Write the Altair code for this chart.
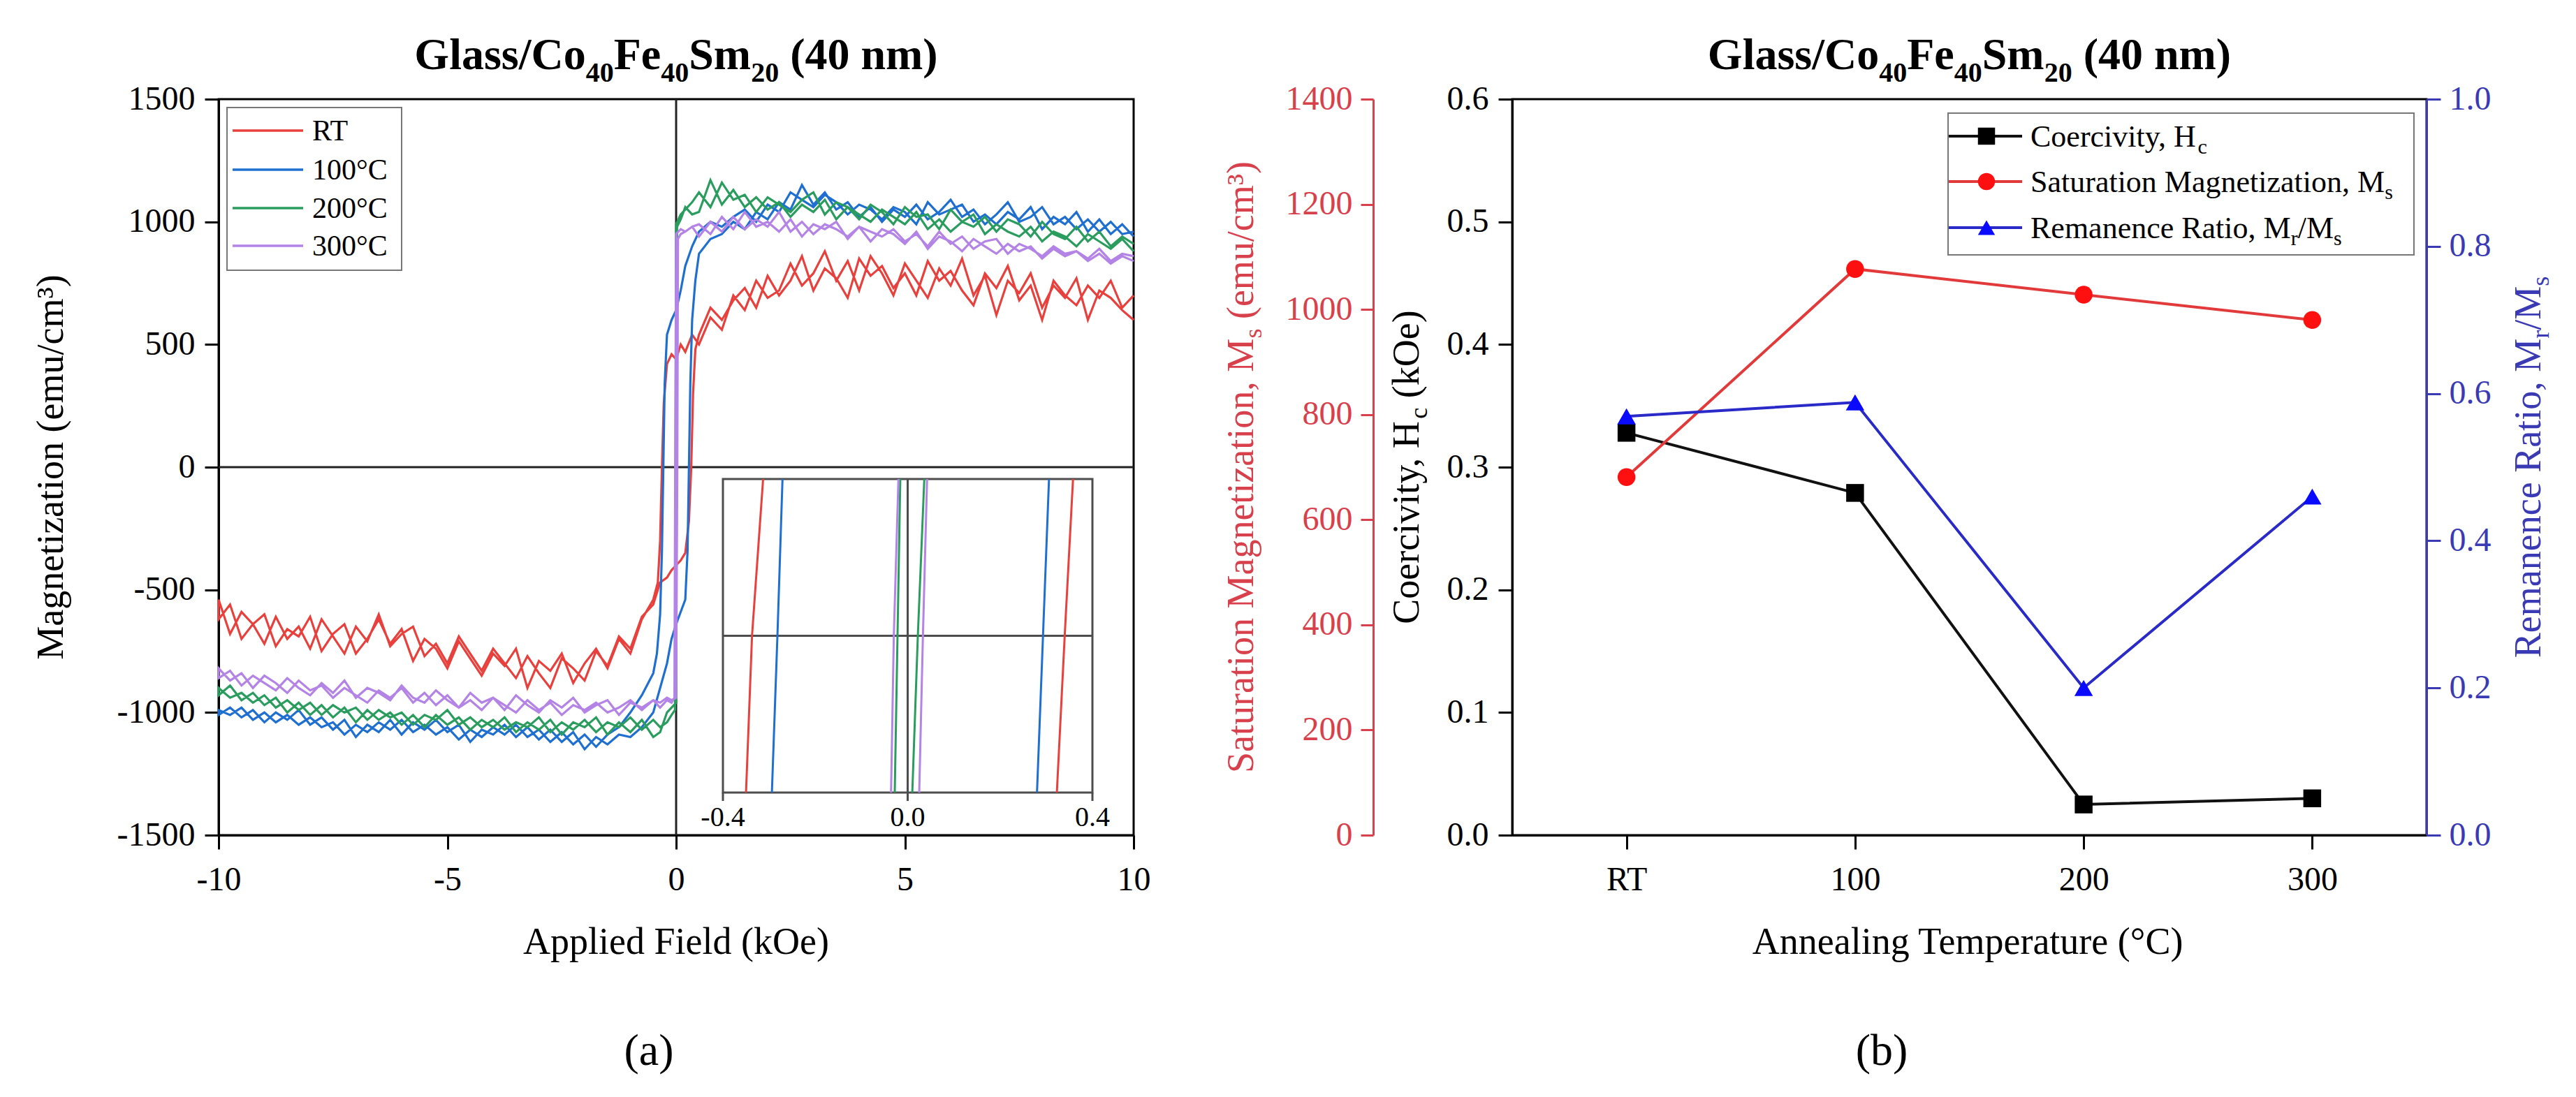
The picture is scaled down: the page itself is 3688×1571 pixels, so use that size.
import altair as alt
import pandas as pd

FONT = "Liberation Serif"

# =====================================================================
# Panel (a): hysteresis loops
# =====================================================================
SERIES = ["RT", "100°C", "200°C", "300°C"]
LOOP_COLORS = ["#e8403c", "#1f6fd0", "#2a9d5e", "#b383e6"]

# field grid (kOe) of the saturated parts
H_POS = [round(0.5 + 0.25 * i, 2) for i in range(39)]    # 0.5 ... 10
H_NEG = [round(-10 + 0.25 * i, 2) for i in range(39)]    # -10 ... -0.5

# ---- RT ----
RT_DESC_POS = [500, 610, 560, 700, 640, 760, 690, 720, 830, 740, 790, 880, 760, 840, 720, 860, 790, 700, 830, 760,
               690, 810, 740, 850, 700, 780, 620, 760, 710, 790, 650, 740, 690, 770, 600, 720, 690, 640, 600]
RT_ASC_POS = [540, 650, 600, 680, 730, 650, 780, 700, 760, 860, 720, 810, 770, 690, 850, 780, 820, 730, 790, 700,
              840, 760, 800, 720, 660, 790, 730, 820, 680, 740, 600, 760, 700, 660, 740, 690, 760, 650, 700]
RT_DESC_NEG = [-620, -560, -700, -640, -600, -730, -660, -690, -610, -750, -680, -640, -760, -700, -620, -720, -660,
               -790, -700, -740, -820, -710, -780, -850, -760, -810, -740, -900, -790, -830, -760, -880, -800, -740,
               -820, -700, -760, -620, -540]
RT_ASC_NEG = [-540, -680, -590, -640, -720, -610, -700, -650, -740, -620, -690, -760, -650, -710, -600, -730, -680,
              -650, -770, -720, -800, -690, -760, -830, -740, -800, -860, -770, -840, -900, -780, -820, -870, -750,
              -810, -690, -740, -610, -560]
RT_DSW_H = [0.35, 0.2, 0.1, 0.0, -0.1, -0.2, -0.27, -0.31, -0.35, -0.4]
RT_DSW_M = [540, 470, 500, 440, 460, 420, 260, 0, -300, -470]
RT_ASW_H = [-0.35, -0.2, -0.1, 0.0, 0.1, 0.2, 0.28, 0.33, 0.37, 0.42]
RT_ASW_M = [-470, -450, -420, -400, -380, -350, -220, 0, 300, 480]

# ---- 100 °C ----
B_DESC_POS = [960, 1000, 980, 1020, 1050, 1000, 1070, 1040, 1120, 1090, 1060, 1110, 1080, 1030, 1070, 1050, 1010,
              1060, 1040, 990, 1080, 1030, 1050, 1070, 1000, 1030, 990, 1040, 1010, 1060, 970, 1020, 990, 1040, 960,
              1010, 950, 990, 940]
B_ASC_POS = [870, 930, 950, 1000, 970, 1040, 1010, 1080, 1050, 1150, 1070, 1120, 1050, 1080, 1020, 1060, 1000, 1050,
             1020, 1070, 1010, 1040, 1090, 1020, 1050, 990, 1030, 1080, 1000, 1020, 1060, 990, 1020, 970, 1010, 960,
             1000, 950, 960]
B_DESC_NEG = [-990, -1010, -980, -1030, -1000, -1040, -1010, -1050, -1020, -1060, -1040, -1090, -1050, -1080, -1040,
              -1070, -1030, -1080, -1050, -1090, -1060, -1110, -1070, -1100, -1060, -1090, -1050, -1100, -1070, -1120,
              -1080, -1130, -1090, -1140, -1090, -1060, -1000, -930, -840]
B_ASC_NEG = [-1010, -980, -1020, -990, -1040, -1000, -1030, -990, -1050, -1020, -1070, -1030, -1100, -1050, -1080,
             -1030, -1090, -1040, -1070, -1030, -1080, -1050, -1120, -1070, -1090, -1050, -1100, -1060, -1110, -1070,
             -1120, -1080, -1150, -1100, -1130, -1090, -1100, -1060, -1000]
B_DSW_H = [0.35, 0.2, 0.1, 0.0, -0.1, -0.2, -0.25, -0.28, -0.31, -0.35, -0.42]
B_DSW_M = [900, 820, 720, 640, 600, 540, 340, 0, -340, -600, -760]
B_ASW_H = [-0.35, -0.2, -0.1, 0.0, 0.1, 0.2, 0.25, 0.28, 0.31, 0.35, 0.42]
B_ASW_M = [-900, -800, -700, -640, -590, -540, -340, 0, 340, 600, 760]

# ---- 200 °C ----
G_DESC_POS = [1120, 1060, 1160, 1090, 1110, 1040, 1100, 1070, 1040, 1090, 1120, 1030, 1080, 1060, 1010, 1070, 1040,
              990, 1060, 1020, 1030, 970, 1050, 1000, 980, 1020, 960, 1010, 990, 940, 1000, 950, 930, 980, 920, 960,
              900, 940, 910]
G_ASC_POS = [1040, 1170, 1070, 1130, 1060, 1100, 1050, 1080, 1020, 1070, 1040, 1090, 1010, 1060, 1030, 1000, 1050,
             1020, 990, 1040, 970, 1010, 960, 1000, 1030, 950, 990, 960, 940, 980, 920, 960, 940, 900, 950, 920, 890,
             930, 880]
G_DESC_NEG = [-900, -940, -920, -960, -930, -980, -950, -990, -960, -1010, -970, -1000, -980, -1030, -990, -1020,
              -1000, -1050, -1010, -1030, -990, -1050, -1020, -1060, -1030, -1070, -1040, -1060, -1020, -1080, -1040,
              -1070, -1030, -1080, -1040, -1060, -1020, -1070, -1030]
G_ASC_NEG = [-930, -890, -950, -920, -970, -940, -1000, -960, -1010, -970, -1020, -980, -1040, -990, -1030, -1000,
             -1050, -1010, -1060, -1010, -1050, -1020, -1070, -1030, -1060, -1020, -1080, -1040, -1070, -1030, -1090,
             -1040, -1060, -1020, -1090, -1040, -1080, -1030, -1100]
G_DSW_H = [0.35, 0.2, 0.1, 0.0, -0.012, -0.025, -0.1, -0.2, -0.35]
G_DSW_M = [1080, 1050, 1030, 990, 0, -990, -1010, -1040, -1060]
G_ASW_H = [-0.35, -0.2, -0.1, 0.0, 0.008, 0.02, 0.1, 0.2, 0.35]
G_ASW_M = [-1080, -1000, -980, -960, 0, 980, 1010, 1060, 1030]

# ---- 300 °C ----
P_DESC_POS = [990, 950, 1020, 970, 1040, 980, 1000, 960, 1010, 940, 990, 970, 1000, 930, 980, 960, 940, 970, 920,
              950, 900, 960, 910, 940, 890, 920, 930, 870, 910, 890, 860, 900, 870, 880, 850, 890, 840, 870, 860]
P_ASC_POS = [940, 1000, 960, 1020, 970, 1010, 980, 1040, 960, 1000, 950, 990, 970, 940, 980, 920, 970, 950, 910, 960,
             890, 940, 920, 880, 930, 900, 870, 910, 880, 900, 850, 890, 860, 880, 840, 870, 830, 860, 840]
P_DESC_NEG = [-860, -830, -890, -850, -880, -910, -860, -900, -930, -880, -920, -870, -940, -900, -920, -950, -890,
              -940, -960, -910, -950, -980, -920, -960, -940, -990, -930, -970, -1000, -950, -980, -940, -1000, -970,
              -950, -1010, -960, -980, -950]
P_ASC_NEG = [-820, -870, -840, -900, -850, -880, -920, -870, -910, -890, -940, -900, -930, -960, -910, -940, -900,
             -960, -920, -970, -930, -980, -950, -990, -940, -970, -1000, -950, -990, -960, -1010, -970, -990, -960,
             -1000, -980, -950, -990, -950]
P_DSW_H = [0.35, 0.2, 0.1, 0.0, -0.02, -0.036, -0.1, -0.2, -0.35]
P_DSW_M = [980, 960, 970, 950, 0, -940, -960, -950, -980]
P_ASW_H = [-0.35, -0.2, -0.1, 0.0, 0.025, 0.04, 0.1, 0.2, 0.35]
P_ASW_M = [-960, -940, -950, -940, 0, 930, 950, 960, 980]

# ---- inset: crossings near M = 0 (field at bottom / middle / top of the inset) ----
INSET_M = [-1.0, 0.0, 1.0]
INSET_RT_L = [-0.350, -0.337, -0.313]
INSET_RT_R = [0.323, 0.340, 0.358]
INSET_B_L = [-0.294, -0.282, -0.271]
INSET_B_R = [0.280, 0.293, 0.306]
INSET_G_L = [-0.028, -0.022, -0.016]
INSET_G_R = [0.010, 0.022, 0.036]
INSET_P_L = [-0.036, -0.030, -0.020]
INSET_P_R = [0.025, 0.033, 0.042]
INSET_TICKS = [-0.4, 0.0, 0.4]
INSET_TICK_LABELS = ["-0.4", "0.0", "0.4"]

# =====================================================================
# Panel (b): magnetic parameters vs annealing temperature
# =====================================================================
TEMPS = ["RT", "100", "200", "300"]
HC = [0.328, 0.279, 0.025, 0.030]
MS = [681, 1077, 1028, 980]
RR = [0.569, 0.588, 0.200, 0.460]

# ---------------------------------------------------------------------
# layout / style constants
# ---------------------------------------------------------------------
W_A, W_B, HT = 1310, 1309, 1054
HC_COLOR, MS_LINE, MS_PT = "#111111", "#e23a3a", "#ff1010"
RR_LINE, RR_PT = "#2a2ac8", "#0a0aff"
RED_AX, BLUE_AX = "#d8404c", "#3a3ab4"

TR = {" ": 250, "(": 333, ")": 333, "/": 278, ",": 250, ".": 250, "-": 333, "³": 300, "°": 400,
      "A": 722, "C": 667, "F": 556, "H": 722, "M": 889, "O": 722, "R": 667, "S": 556, "T": 611,
      "a": 444, "b": 500, "c": 444, "d": 500, "e": 444, "g": 500, "i": 278, "k": 500, "l": 278, "m": 778,
      "n": 500, "o": 500, "p": 500, "r": 333, "s": 389, "t": 278, "u": 500, "v": 500, "y": 500, "z": 444}
TB = {" ": 250, "(": 333, ")": 333, "/": 278, "G": 778, "l": 278, "a": 500, "s": 389, "C": 722, "o": 500,
      "F": 611, "e": 444, "S": 556, "m": 833, "n": 556}


def tw(s, size, bold=False):
    tbl = TB if bold else TR
    return sum(tbl.get(ch, 500) for ch in s) * size / 1000.0


def segs(parts, size, sub_size, sub_shift, bold=False):
    out = []
    for t, sub in parts:
        fs = sub_size if sub else size
        w = tw(t, fs, bold)
        st = t.lstrip(" ")
        lead = tw(t[: len(t) - len(st)], fs, bold)
        out.append((st, w, fs, sub_shift if sub else 0, lead))
    return out


def hrow(parts, x0, base, size, sub_size=None, sub_shift=0, bold=False, center=False):
    sg = segs(parts, size, sub_size or size, sub_shift, bold)
    total = sum(s[1] for s in sg)
    x = x0 - total / 2 if center else x0
    rows = []
    for t, w, fs, sh, lead in sg:
        rows.append(dict(t=t, px=x + lead, py=base + sh, fs=fs))
        x += w
    return rows


def vrow(parts, basex, cy, size, sub_size=None, sub_shift=0):
    sg = segs(parts, size, sub_size or size, sub_shift)
    total = sum(s[1] for s in sg)
    y = cy + total / 2
    rows = []
    for t, w, fs, sh, lead in sg:
        rows.append(dict(t=t, px=basex + sh, py=y - lead, fs=fs))
        y -= w
    return rows


def text_layer(rows, color="black", angle=None, bold=False):
    mk = dict(align="left", baseline="alphabetic", font=FONT, color=color,
              fontWeight="bold" if bold else "normal")
    if angle is not None:
        mk["angle"] = angle
    return alt.Chart(pd.DataFrame(rows)).mark_text(**mk).encode(
        x=alt.X("px:Q", scale=None), y=alt.Y("py:Q", scale=None),
        size=alt.Size("fs:Q", scale=None), text="t:N")


def build_loop(name, desc_pos, dsw_h, dsw_m, desc_neg, asc_neg, asw_h, asw_m, asc_pos):
    hs = list(reversed(H_POS)) + dsw_h + list(reversed(H_NEG)) + H_NEG + asw_h + H_POS
    ms = list(reversed(desc_pos)) + dsw_m + list(reversed(desc_neg)) + asc_neg + asw_m + asc_pos
    return [dict(series=name, H=h, M=m, order=i) for i, (h, m) in enumerate(zip(hs, ms))]


loop_rows = []
loop_rows += build_loop("RT", RT_DESC_POS, RT_DSW_H, RT_DSW_M, RT_DESC_NEG, RT_ASC_NEG, RT_ASW_H, RT_ASW_M, RT_ASC_POS)
loop_rows += build_loop("100°C", B_DESC_POS, B_DSW_H, B_DSW_M, B_DESC_NEG, B_ASC_NEG, B_ASW_H, B_ASW_M, B_ASC_POS)
loop_rows += build_loop("200°C", G_DESC_POS, G_DSW_H, G_DSW_M, G_DESC_NEG, G_ASC_NEG, G_ASW_H, G_ASW_M, G_ASC_POS)
loop_rows += build_loop("300°C", P_DESC_POS, P_DSW_H, P_DSW_M, P_DESC_NEG, P_ASC_NEG, P_ASW_H, P_ASW_M, P_ASC_POS)
loop_df = pd.DataFrame(loop_rows)

# ---------------- panel (a) ----------------
xa = alt.X("H:Q", scale=alt.Scale(domain=[-10, 10], nice=False, zero=False),
           axis=alt.Axis(values=[-10, -5, 0, 5, 10], labelExpr="'' + datum.value", title=None, labelPadding=20))
ya = alt.Y("M:Q", scale=alt.Scale(domain=[-1500, 1500], nice=False, zero=False),
           axis=alt.Axis(values=[-1500, -1000, -500, 0, 500, 1000, 1500], labelExpr="'' + datum.value",
                         title=None))
color_a = alt.Color("series:N", scale=alt.Scale(domain=SERIES, range=LOOP_COLORS), legend=None)

vzero = alt.Chart(pd.DataFrame({"H": [0.0]})).mark_rule(color="#222222", strokeWidth=3).encode(x=xa)
hzero = alt.Chart(pd.DataFrame({"M": [0.0]})).mark_rule(color="#222222", strokeWidth=3).encode(y=ya)
loops = alt.Chart(loop_df).mark_line(strokeWidth=3.2).encode(x=xa, y=ya, color=color_a, order="order:Q")

LEG_A_Y = [45, 101, 156, 210]
leg_box_a = alt.Chart(pd.DataFrame({"k": [0]})).mark_rect(fill="white", stroke="#777777", strokeWidth=2).encode(
    x=alt.value(12), x2=alt.value(262), y=alt.value(12), y2=alt.value(245))
leg_lines_a = alt.Chart(pd.DataFrame({"series": SERIES, "ry": LEG_A_Y})).mark_rule(strokeWidth=3.5).encode(
    x=alt.value(20), x2=alt.value(121), y=alt.Y("ry:Q", scale=None), color=color_a)
leg_text_a = text_layer([dict(t=s, px=134, py=y + 14, fs=42) for s, y in zip(SERIES, LEG_A_Y)])

TITLE_PARTS = [("Glass/Co", False), ("40", True), ("Fe", False), ("40", True), ("Sm", False), ("20", True),
               (" (40 nm)", False)]
title_a = text_layer(hrow(TITLE_PARTS, W_A / 2, -43, 64, 40, 18, bold=True, center=True), bold=True)
ytitle_a = text_layer(vrow([("Magnetization (emu/cm³)", False)], -223, HT / 2, 54), angle=270)
xtitle_a = text_layer(hrow([("Applied Field (kOe)", False)], W_A / 2, 1224, 54, center=True))
lab_a = text_layer(hrow([("(a)", False)], 616, 1383, 64, center=True))

main_a = alt.layer(vzero, hzero, loops, leg_box_a, leg_lines_a, leg_text_a, title_a, ytitle_a, xtitle_a, lab_a)

inset_x = alt.Scale(domain=[-0.4, 0.4], range=[722, 1251], nice=False, zero=False)
inset_y = alt.Scale(domain=[-1, 1], range=[993, 544], nice=False, zero=False)
ix = alt.X("x0:Q", scale=inset_x, axis=None)
iy = alt.Y("y0:Q", scale=inset_y, axis=None)

inset_box = alt.Chart(pd.DataFrame({"x0": [-0.4], "x1": [0.4], "y0": [-1.0], "y1": [1.0]})).mark_rect(
    fill="white", stroke="#4d4d4d", strokeWidth=3).encode(x=ix, x2="x1:Q", y=iy, y2="y1:Q")
cross_v = alt.Chart(pd.DataFrame({"x0": [0.0], "y0": [-1.0], "y1": [1.0]})).mark_rule(
    color="#4d4d4d", strokeWidth=3).encode(x=ix, y=iy, y2="y1:Q")
cross_h = alt.Chart(pd.DataFrame({"x0": [-0.4], "x1": [0.4], "y0": [0.0]})).mark_rule(
    color="#4d4d4d", strokeWidth=3).encode(x=ix, x2="x1:Q", y=iy)

inset_rows = []
for nm, L, R in [("200°C", INSET_G_L, INSET_G_R), ("300°C", INSET_P_L, INSET_P_R),
                 ("RT", INSET_RT_L, INSET_RT_R), ("100°C", INSET_B_L, INSET_B_R)]:
    for side, xs in (("L", L), ("R", R)):
        for k, (xv, yv) in enumerate(zip(xs, INSET_M)):
            inset_rows.append(dict(series=nm, branch=nm + side, x0=xv, y0=yv, k=k))
inset_lines = alt.Chart(pd.DataFrame(inset_rows)).mark_line(strokeWidth=3).encode(
    x=ix, y=iy, color=color_a, detail="branch:N", order="k:Q")

tick_df = pd.DataFrame({"x0": INSET_TICKS, "lab": INSET_TICK_LABELS})
inset_ticks = alt.Chart(tick_df).mark_rule(color="#4d4d4d", strokeWidth=3).encode(
    x=ix, y=alt.value(993), y2=alt.value(1005))
inset_labels = alt.Chart(tick_df).mark_text(font=FONT, fontSize=40, align="center", baseline="alphabetic").encode(
    x=ix, y=alt.value(1041), text="lab:N")

inset_a = alt.layer(inset_box, cross_v, cross_h, inset_lines, inset_ticks, inset_labels)

panel_a = alt.layer(main_a, inset_a).resolve_scale(x="independent", y="independent").properties(
    width=W_A, height=HT)

# ---------------- panel (b) ----------------
b_df = pd.DataFrame({"T": TEMPS, "Hc": HC, "Ms": MS, "Rr": RR})
xb = alt.X("T:N", sort=TEMPS, scale=alt.Scale(type="point", padding=0.5),
           axis=alt.Axis(labelAngle=0, title=None, labelPadding=20))

hc_layer = alt.Chart(b_df).mark_line(
    color=HC_COLOR, strokeWidth=4,
    point=alt.OverlayMarkDef(shape="square", size=650, filled=True, color="black", opacity=1)).encode(
    x=xb, y=alt.Y("Hc:Q", scale=alt.Scale(domain=[0, 0.6], nice=False),
                  axis=alt.Axis(orient="left", values=[0, 0.1, 0.2, 0.3, 0.4, 0.5, 0.6], format=".1f",
                                title=None)))
ms_layer = alt.Chart(b_df).mark_line(
    color=MS_LINE, strokeWidth=4,
    point=alt.OverlayMarkDef(shape="circle", size=650, filled=True, color=MS_PT, opacity=1)).encode(
    x=xb, y=alt.Y("Ms:Q", scale=alt.Scale(domain=[0, 1400], nice=False),
                  axis=alt.Axis(orient="left", offset=199, values=[0, 200, 400, 600, 800, 1000, 1200, 1400],
                                format="d", title=None, labelColor=RED_AX, tickColor=RED_AX,
                                domainColor=RED_AX, tickSize=18, labelPadding=12)))
rr_layer = alt.Chart(b_df).mark_line(
    color=RR_LINE, strokeWidth=4,
    point=alt.OverlayMarkDef(shape="triangle-up", size=700, filled=True, color=RR_PT, opacity=1)).encode(
    x=xb, y=alt.Y("Rr:Q", scale=alt.Scale(domain=[0, 1], nice=False),
                  axis=alt.Axis(orient="right", values=[0, 0.2, 0.4, 0.6, 0.8, 1.0], format=".1f", title=None,
                                labelColor=BLUE_AX, tickColor=BLUE_AX, domainColor=BLUE_AX, labelPadding=12)))

LEG_B_Y = [53, 118, 184]
leg_box_b = alt.Chart(pd.DataFrame({"k": [0]})).mark_rect(fill="white", stroke="#777777", strokeWidth=2).encode(
    x=alt.value(624), x2=alt.value(1291), y=alt.value(20), y2=alt.value(223))
leg_sym_df = pd.DataFrame({"ry": LEG_B_Y, "col": [HC_COLOR, MS_LINE, RR_LINE],
                           "pcol": ["black", MS_PT, RR_PT], "shp": ["square", "circle", "triangle-up"]})
leg_lines_b = alt.Chart(leg_sym_df).mark_rule(strokeWidth=4).encode(
    x=alt.value(625), x2=alt.value(730), y=alt.Y("ry:Q", scale=None), color=alt.Color("col:N", scale=None))
leg_pts_b = alt.Chart(leg_sym_df).mark_point(filled=True, size=600, opacity=1).encode(
    x=alt.value(679), y=alt.Y("ry:Q", scale=None), color=alt.Color("pcol:N", scale=None),
    shape=alt.Shape("shp:N", scale=None))
LEG_B_PARTS = [
    [("Coercivity, H", False), ("c", True)],
    [("Saturation Magnetization, M", False), ("s", True)],
    [("Remanence Ratio, M", False), ("r", True), ("/M", False), ("s", True)],
]
leg_rows_b = []
for parts, y in zip(LEG_B_PARTS, LEG_B_Y):
    leg_rows_b += hrow(parts, 742, y + 15, 44, 30, 10)
leg_text_b = text_layer(leg_rows_b)

title_b = text_layer(hrow(TITLE_PARTS, W_B / 2, -43, 64, 40, 18, bold=True, center=True), bold=True)
red_title = text_layer(vrow([("Saturation Magnetization, M", False), ("s", True), (" (emu/cm³)", False)],
                            -371, HT / 2, 54, 36, 12), color=RED_AX, angle=270)
blk_title = text_layer(vrow([("Coercivity, H", False), ("c", True), (" (kOe)", False)],
                            -134, HT / 2, 54, 36, 12), angle=270)
blu_title = text_layer(vrow([("Remanence Ratio, M", False), ("r", True), ("/M", False), ("s", True)],
                            1472, HT / 2, 54, 36, 12), color=BLUE_AX, angle=270)
xtitle_b = text_layer(hrow([("Annealing Temperature (°C)", False)], W_B / 2, 1224, 54, center=True))
lab_b = text_layer(hrow([("(b)", False)], 529, 1383, 64, center=True))

panel_b = alt.layer(
    hc_layer, ms_layer, rr_layer, leg_box_b, leg_lines_b, leg_pts_b, leg_text_b,
    title_b, red_title, blk_title, blu_title, xtitle_b, lab_b
).resolve_scale(y="independent").properties(width=W_B, height=HT)

chart = alt.hconcat(panel_a, panel_b, spacing=100).properties(
    padding={"left": 45, "top": 46, "right": 10, "bottom": 10}, background="white"
).configure_view(stroke="black", strokeWidth=3).configure_axis(
    labelFont=FONT, labelFontSize=48, labelColor="black", tickSize=20, tickWidth=3, tickColor="black",
    domainColor="black", domainWidth=3, grid=False, labelPadding=14, labelFlush=False, labelOverlap=False)

chart.save("out.html", embed_options={"renderer": "svg", "actions": False})
